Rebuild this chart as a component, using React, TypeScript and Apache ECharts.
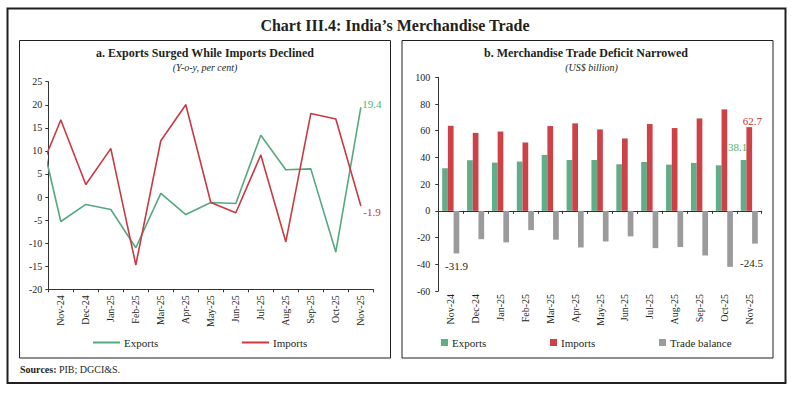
import React, { useEffect, useRef } from 'react';
import * as echarts from 'echarts';

// Left panel: y-o-y growth (per cent). First entry (Oct-24) lies outside the plot and is clipped at the axis.
const months = ['Oct-24', 'Nov-24', 'Dec-24', 'Jan-25', 'Feb-25', 'Mar-25', 'Apr-25', 'May-25', 'Jun-25', 'Jul-25', 'Aug-25', 'Sep-25', 'Oct-25', 'Nov-25'];
const shownMonths = months.slice(1);
const exportsGrowth = [18.0, -5.3, -1.6, -2.7, -11.0, 0.8, -3.8, -1.2, -1.4, 13.4, 5.9, 6.1, -11.9, 19.4];
const importsGrowth = [3.5, 16.7, 2.7, 10.5, -14.7, 12.2, 20.0, -1.2, -3.4, 9.1, -9.7, 18.1, 16.9, -1.9];

// Right panel: US$ billion
const exportsUSD = [31.9, 37.9, 36.1, 36.9, 41.9, 38.1, 38.1, 34.9, 36.6, 34.6, 35.9, 34.1, 38.1];
const importsUSD = [63.7, 58.4, 59.4, 51.2, 63.5, 65.5, 61.0, 54.2, 65.0, 62.0, 69.2, 76.0, 62.7];
const balanceUSD = [-31.9, -21.2, -23.6, -14.4, -21.6, -27.4, -22.9, -19.1, -27.9, -27.1, -33.4, -41.9, -24.5];

const FONT = 'Liberation Serif';
const TXT = '#231f20';
const AXIS = '#333333';
const GREEN_LINE = '#56a880';
const RED_LINE = '#c93a40';
const GREEN_BAR = '#5fae88';
const RED_BAR = '#cd4247';
const GRAY_BAR = '#9b9b9b';
const GREEN_LABEL = '#4db36a';
const RED_LABEL = '#c9353c';

const strip = (n: string) => n.replace(/ \([ab]\)$/, '');

function buildOption(): any {
  const last = shownMonths.length - 1;
  const yAxisBase = (min: number, max: number, interval: number, grid: number, margin: number) => ({
    gridIndex: grid,
    type: 'value',
    min,
    max,
    interval,
    splitLine: { show: false },
    axisLine: { show: true, onZero: false, lineStyle: { color: AXIS, width: 1 } },
    axisTick: { show: true, length: 3, lineStyle: { color: AXIS } },
    axisLabel: { fontFamily: FONT, fontSize: 10, color: TXT, margin },
  });
  const zeroAxis = (grid: number) => ({
    gridIndex: grid,
    type: 'category',
    data: shownMonths,
    position: 'bottom',
    boundaryGap: true,
    axisLine: { show: true, onZero: true, lineStyle: { color: AXIS, width: 1 } },
    axisTick: { show: true, length: 3, interval: 0, lineStyle: { color: AXIS } },
    axisLabel: { show: false, interval: 0 },
    splitLine: { show: false },
  });
  const labelAxis = (grid: number, margin: number) => ({
    gridIndex: grid,
    type: 'category',
    data: shownMonths,
    position: 'bottom',
    boundaryGap: true,
    axisLine: { show: false, onZero: false },
    axisTick: { show: false },
    axisLabel: { show: true, interval: 0, rotate: 90, margin, fontFamily: FONT, fontSize: 10, color: TXT },
    splitLine: { show: false },
  });

  const lineData = (arr: number[], lastLabel: any) =>
    arr.map((v, i) => (i === arr.length - 1 ? { value: [i, v], label: lastLabel } : [i, v]));

  return {
    animation: false,
    backgroundColor: '#ffffff',
    textStyle: { fontFamily: FONT },
    grid: [
      { left: 48.3, top: 81.7, width: 325, height: 207.6, containLabel: false },
      { left: 438.3, top: 77.3, width: 323.4, height: 213.7, containLabel: false },
    ],
    xAxis: [
      { gridIndex: 0, type: 'value', min: 0.5, max: 13.5, show: false },
      zeroAxis(0),
      labelAxis(0, 6),
      zeroAxis(1),
      labelAxis(1, 3),
    ],
    yAxis: [yAxisBase(-20, 25, 5, 0, 6), yAxisBase(-60, 100, 20, 1, 8)],
    legend: [
      { data: [{ name: 'Exports (a)', icon: 'rect' }], left: 93, top: 337, itemWidth: 27, itemHeight: 2 },
      { data: [{ name: 'Imports (a)', icon: 'rect' }], left: 242, top: 337, itemWidth: 27, itemHeight: 2 },
      { data: [{ name: 'Exports (b)', icon: 'rect' }], left: 441, top: 337, itemWidth: 7, itemHeight: 7 },
      { data: [{ name: 'Imports (b)', icon: 'rect' }], left: 550, top: 337, itemWidth: 7, itemHeight: 7 },
      { data: [{ name: 'Trade balance', icon: 'rect' }], left: 659, top: 337, itemWidth: 7, itemHeight: 7 },
    ].map((l) => ({
      ...l,
      selectedMode: false,
      padding: 0,
      formatter: strip,
      textStyle: { fontFamily: FONT, fontSize: 11, color: TXT, padding: [0, 0, 0, -1] },
    })),
    series: [
      {
        type: 'line',
        name: 'Exports (a)',
        xAxisIndex: 0,
        yAxisIndex: 0,
        data: lineData(exportsGrowth, {
          show: true,
          position: 'right',
          distance: 1,
          offset: [0, -4],
          color: GREEN_LABEL,
        }),
        symbol: 'circle',
        symbolSize: 1,
        clip: true,
        silent: true,
        lineStyle: { color: GREEN_LINE, width: 1.6 },
        itemStyle: { color: GREEN_LINE },
        label: { show: false, formatter: (p: any) => String(p.value[1]), fontFamily: FONT, fontSize: 11 },
      },
      {
        type: 'line',
        name: 'Imports (a)',
        xAxisIndex: 0,
        yAxisIndex: 0,
        data: lineData(importsGrowth, {
          show: true,
          position: 'right',
          distance: 2,
          offset: [0, 6],
          color: RED_LABEL,
        }),
        symbol: 'circle',
        symbolSize: 1,
        clip: true,
        silent: true,
        lineStyle: { color: RED_LINE, width: 1.6 },
        itemStyle: { color: RED_LINE },
        label: { show: false, formatter: (p: any) => String(p.value[1]), fontFamily: FONT, fontSize: 11 },
      },
      {
        type: 'bar',
        name: 'Exports (b)',
        xAxisIndex: 3,
        yAxisIndex: 1,
        barWidth: 5.7,
        barGap: '0%',
        silent: true,
        itemStyle: { color: GREEN_BAR },
        label: { show: false, fontFamily: FONT, fontSize: 11 },
        data: exportsUSD.map((v, i) =>
          i === last
            ? { value: v, label: { show: true, position: 'top', distance: 7, offset: [-6, 0], color: GREEN_LABEL } }
            : v
        ),
      },
      {
        type: 'bar',
        name: 'Imports (b)',
        xAxisIndex: 3,
        yAxisIndex: 1,
        barWidth: 5.7,
        barGap: '0%',
        silent: true,
        itemStyle: { color: RED_BAR },
        label: { show: false, fontFamily: FONT, fontSize: 11 },
        data: importsUSD.map((v, i) =>
          i === last
            ? { value: v, label: { show: true, position: 'top', distance: 1, offset: [3, 0], color: RED_LABEL } }
            : v
        ),
      },
      {
        type: 'bar',
        name: 'Trade balance',
        xAxisIndex: 3,
        yAxisIndex: 1,
        barWidth: 5.7,
        barGap: '0%',
        silent: true,
        itemStyle: { color: GRAY_BAR },
        label: { show: false, fontFamily: FONT, fontSize: 11 },
        data: balanceUSD.map((v, i) =>
          i === 0
            ? { value: v, label: { show: true, position: 'bottom', distance: 7, offset: [0, 0], color: TXT } }
            : i === last
            ? { value: v, label: { show: true, position: 'bottom', distance: 14, offset: [-3.5, 0], color: TXT } }
            : v
        ),
      },
    ],
    graphic: [
      { type: 'rect', shape: { x: 7.5, y: 8.5, width: 778, height: 374.5 }, style: { fill: 'none', stroke: TXT, lineWidth: 2 }, silent: true },
      { type: 'rect', shape: { x: 19.5, y: 40.5, width: 371, height: 317.5 }, style: { fill: 'none', stroke: TXT, lineWidth: 1 }, silent: true },
      { type: 'rect', shape: { x: 402, y: 40.5, width: 371, height: 317.5 }, style: { fill: 'none', stroke: TXT, lineWidth: 1 }, silent: true },
      {
        type: 'text', x: 395, y: 25, silent: true,
        style: { text: 'Chart III.4: India\u2019s Merchandise Trade', font: `bold 16px "${FONT}"`, fill: TXT, textAlign: 'center', verticalAlign: 'middle' },
      },
      {
        type: 'text', x: 205, y: 53, silent: true,
        style: { text: 'a. Exports Surged While Imports Declined', font: `bold 12px "${FONT}"`, fill: TXT, textAlign: 'center', verticalAlign: 'middle' },
      },
      {
        type: 'text', x: 205, y: 67.5, silent: true,
        style: { text: '(Y-o-y, per cent)', font: `italic 10px "${FONT}"`, fill: TXT, textAlign: 'center', verticalAlign: 'middle' },
      },
      {
        type: 'text', x: 586, y: 53, silent: true,
        style: { text: 'b. Merchandise Trade Deficit Narrowed', font: `bold 12px "${FONT}"`, fill: TXT, textAlign: 'center', verticalAlign: 'middle' },
      },
      {
        type: 'text', x: 591.5, y: 67.5, silent: true,
        style: { text: '(US$ billion)', font: `italic 10px "${FONT}"`, fill: TXT, textAlign: 'center', verticalAlign: 'middle' },
      },
      {
        type: 'text', x: 20, y: 369, silent: true,
        style: {
          text: '{b|Sources:} PIB; DGCI&S.',
          font: `10px "${FONT}"`,
          fill: TXT,
          textAlign: 'left',
          verticalAlign: 'middle',
          rich: { b: { fontWeight: 'bold', fontFamily: FONT, fontSize: 10, fill: TXT } },
        },
      },
    ],
  };
}

export default function App() {
  const ref = useRef<HTMLDivElement>(null);
  useEffect(() => {
    if (!ref.current) return;
    const chart = echarts.init(ref.current, null, { renderer: 'svg', width: 791, height: 393 });
    chart.setOption(buildOption());
    return () => chart.dispose();
  }, []);
  return (
    <div
      ref={ref}
      style={{ position: 'fixed', left: 0, top: 0, width: 791, height: 393, background: '#ffffff' }}
    />
  );
}
